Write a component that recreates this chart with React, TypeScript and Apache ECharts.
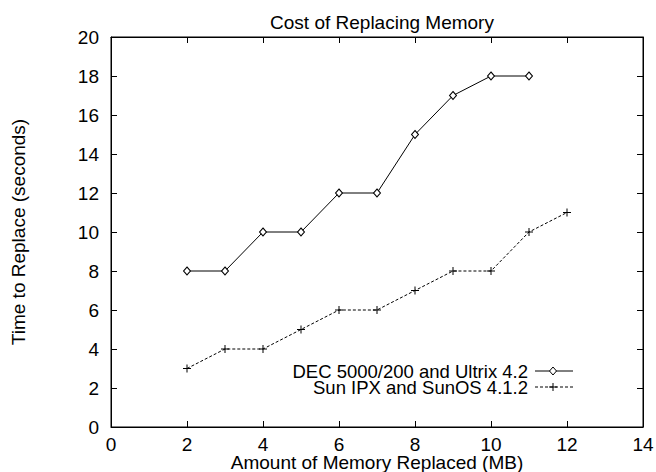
import React, { useEffect, useRef } from "react";
import * as echarts from "echarts";

const titleText = "Cost of Replacing Memory";
const xName = "Amount of Memory Replaced (MB)";
const yName = "Time to Replace (seconds)";
const decName = "DEC 5000/200 and Ultrix 4.2";
const sunName = "Sun IPX and SunOS 4.1.2";
const decX = [2, 3, 4, 5, 6, 7, 8, 9, 10, 11];
const decY = [8, 8, 10, 10, 12, 12, 15, 17, 18, 18];
const sunX = [2, 3, 4, 5, 6, 7, 8, 9, 10, 11, 12];
const sunY = [3, 4, 4, 5, 6, 6, 7, 8, 8, 10, 11];

const FONT = "'Liberation Sans', Arial, Helvetica, sans-serif";
const FS = 19;
const PLUS = "path://M-4,-0.5L4,-0.5L4,0.5L-4,0.5Z M-0.5,-4L0.5,-4L0.5,4L-0.5,4Z";

export default function App() {
  const ref = useRef<HTMLDivElement>(null);
  useEffect(() => {
    if (!ref.current) return;
    const chart = echarts.init(ref.current, undefined, { renderer: "svg" });
    const axisCommon = {
      axisLine: { show: true, onZero: false, lineStyle: { color: "#000", width: 1 } },
      axisTick: { show: true, inside: true, length: 6, lineStyle: { color: "#000" } },
      splitLine: { show: false },
      axisLabel: { color: "#000", fontFamily: FONT, fontSize: FS },
      nameTextStyle: { color: "#000", fontFamily: FONT, fontSize: FS },
      nameMoveOverlap: false,
    };
    chart.setOption({
      animation: false,
      backgroundColor: "#fff",
      title: {
        text: titleText,
        left: 377,
        textAlign: "center",
        top: 8,
        textStyle: { color: "#000", fontFamily: FONT, fontSize: FS, fontWeight: "normal" },
      },
      grid: {
        left: 111, right: 13, top: 37, bottom: 45,
        show: true, borderColor: "#000", borderWidth: 1, backgroundColor: "transparent",
        containLabel: false, outerBoundsMode: "none",
      },
      xAxis: [
        {
          ...axisCommon,
          type: "value",
          min: 0,
          max: 14,
          interval: 2,
          name: xName,
          nameLocation: "middle",
          nameGap: 26,
          nameTextStyle: { ...axisCommon.nameTextStyle, lineHeight: 18 },
          axisLabel: { ...axisCommon.axisLabel, margin: 8 },
        },
        {
          ...axisCommon,
          type: "value",
          position: "top",
          min: 0,
          max: 14,
          interval: 2,
          axisLabel: { show: false },
        },
      ],
      yAxis: [
        {
          ...axisCommon,
          type: "value",
          min: 0,
          max: 20,
          interval: 2,
          name: yName,
          nameLocation: "middle",
          nameGap: 83,
          axisLabel: { ...axisCommon.axisLabel, margin: 12 },
        },
        {
          ...axisCommon,
          type: "value",
          position: "right",
          min: 0,
          max: 20,
          interval: 2,
          axisLabel: { show: false },
        },
      ],
      series: [
        {
          name: decName,
          type: "line",
          data: decX.map((x, i) => [x, decY[i]]),
          symbol: "diamond",
          symbolSize: [7, 8],
          showSymbol: true,
          lineStyle: { color: "#000", width: 1 },
          itemStyle: { color: "#fff", borderColor: "#000", borderWidth: 1 },
        },
        {
          name: sunName,
          type: "line",
          data: sunX.map((x, i) => [x, sunY[i]]),
          symbol: PLUS,
          symbolSize: 8,
          showSymbol: true,
          lineStyle: { color: "#000", width: 1, type: [3, 2] },
          itemStyle: { color: "#000", borderWidth: 0 },
        },
      ],
      graphic: [
        {
          type: "text",
          x: 528,
          y: 371,
          style: {
            text: decName, fill: "#000", font: `18.5px ${FONT}`,
            textAlign: "right", textVerticalAlign: "middle", lineHeight: 15,
          },
        },
        {
          type: "text",
          x: 528,
          y: 387,
          style: {
            text: sunName, fill: "#000", font: `18.5px ${FONT}`,
            textAlign: "right", textVerticalAlign: "middle", lineHeight: 15,
          },
        },
        { type: "line", shape: { x1: 535, y1: 371, x2: 573, y2: 371 }, style: { stroke: "#000", lineWidth: 1 } },
        {
          type: "polygon",
          shape: { points: [[553, 367], [556.5, 371], [553, 375], [549.5, 371]] },
          style: { fill: "#fff", stroke: "#000", lineWidth: 1 },
        },
        {
          type: "line",
          shape: { x1: 535, y1: 387, x2: 573, y2: 387 },
          style: { stroke: "#000", lineWidth: 1, lineDash: [3, 2] },
        },
        { type: "line", shape: { x1: 549, y1: 387, x2: 557, y2: 387 }, style: { stroke: "#000", lineWidth: 1 } },
        { type: "line", shape: { x1: 553, y1: 383, x2: 553, y2: 391 }, style: { stroke: "#000", lineWidth: 1 } },
      ],
    });
    return () => chart.dispose();
  }, []);
  return <div ref={ref} style={{ width: 656, height: 472, position: "absolute", left: 0, top: 0 }} />;
}
